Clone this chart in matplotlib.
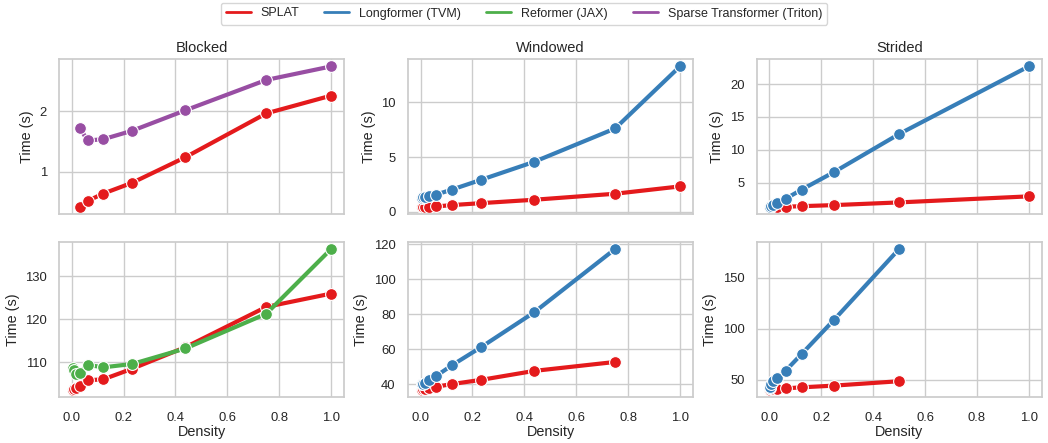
import numpy
import seaborn as sns
from matplotlib import pyplot
from matplotlib.lines import Line2D
from matplotlib.ticker import StrMethodFormatter

sns.set_theme(style='whitegrid')
pyplot.rcParams['font.family'] = ['Liberation Sans', 'DejaVu Sans']

# colours (Set1)
C_SPLAT = '#e41a1c'
C_LONG = '#377eb8'
C_REF = '#4daf4a'
C_SPARSE = '#984ea3'

series_names = ['SPLAT', 'Longformer (TVM)', 'Reformer (JAX)', 'Sparse Transformer (Triton)']
col_titles = ['Blocked', 'Windowed', 'Strided']

# Blocked, top row
blk_top_d = [0.031, 0.061, 0.121, 0.234, 0.438, 0.75, 1.0]
blk_top_splat = [0.667, 0.715, 0.778, 0.882, 1.18, 1.95, 2.39]
blk_top_sparse = [1.65, 1.43, 1.45, 1.60, 2.02, 2.86, 3.34]

# Blocked, bottom row
blk_bot_d = [0.004, 0.008, 0.016, 0.031, 0.061, 0.121, 0.234, 0.438, 0.75, 1.0]
blk_bot_splat = [103.6, 103.8, 104.1, 104.5, 105.8, 106.0, 108.5, 113.5, 122.9, 126.0]
blk_bot_reformer = [108.6, 108.3, 107.3, 107.6, 109.4, 108.8, 109.6, 113.2, 121.3, 136.4]

# Windowed, top row
win_top_d = [0.004, 0.008, 0.016, 0.031, 0.061, 0.121, 0.234, 0.438, 0.75, 1.0]
win_top_splat = [0.43, 0.44, 0.45, 0.47, 0.49, 0.61, 0.79, 1.10, 1.65, 2.32]
win_top_long = [1.3, 1.33, 1.38, 1.45, 1.58, 2.03, 2.93, 4.57, 7.62, 13.3]

# Windowed, bottom row
win_bot_d = [0.004, 0.008, 0.016, 0.031, 0.061, 0.121, 0.234, 0.438, 0.75]
win_bot_splat = [37.0, 37.2, 37.4, 37.8, 38.7, 40.2, 42.6, 47.7, 52.8]
win_bot_long = [40.2, 40.5, 41.0, 42.3, 44.9, 50.9, 61.3, 81.1, 117.2]

# Strided, top row
str_top_d = [0.0039, 0.0078, 0.0156, 0.0312, 0.0625, 0.125, 0.25, 0.5, 1.0]
str_top_splat = [1.28, 1.29, 1.30, 1.31, 1.33, 1.42, 1.58, 1.99, 2.91]
str_top_long = [1.3, 1.4, 1.55, 1.85, 2.55, 3.95, 6.63, 12.4, 22.7]

# Strided, bottom row
str_bot_d = [0.002, 0.0039, 0.0078, 0.0156, 0.0312, 0.0625, 0.125, 0.25, 0.5]
str_bot_splat = [40.1, 40.2, 40.4, 40.7, 41.0, 41.4, 42.4, 44.1, 48.4]
str_bot_long = [41.5, 43.0, 45.5, 48.5, 52.0, 58.7, 75.3, 108.9, 178.3]

panels = [
    [(blk_top_d, blk_top_splat, C_SPLAT), (blk_top_d, blk_top_sparse, C_SPARSE)],
    [(win_top_d, win_top_splat, C_SPLAT), (win_top_d, win_top_long, C_LONG)],
    [(str_top_d, str_top_splat, C_SPLAT), (str_top_d, str_top_long, C_LONG)],
    [(blk_bot_d, blk_bot_splat, C_SPLAT), (blk_bot_d, blk_bot_reformer, C_REF)],
    [(win_bot_d, win_bot_splat, C_SPLAT), (win_bot_d, win_bot_long, C_LONG)],
    [(str_bot_d, str_bot_splat, C_SPLAT), (str_bot_d, str_bot_long, C_LONG)],
]

fig, axes = pyplot.subplots(2, 3, figsize=(10.48, 4.43), dpi=100, sharex=True)
fig.subplots_adjust(left=0.0566, right=0.994, top=0.866, bottom=0.1045,
                    wspace=0.225, hspace=0.18)

for k, ax in enumerate(axes.flat):
    for d, t, c in panels[k]:
        ax.plot(d, t, color=c, lw=3, marker='o', ms=8.5,
                markeredgecolor='white', markeredgewidth=0.8)
    ax.set_ylabel('Time (s)', fontsize=10.4)
    ax.tick_params(labelsize=9.4, length=0)
    ax.tick_params(axis='x', pad=11)
    ax.tick_params(axis='y', pad=9)
    for s in ax.spines.values():
        s.set_color('#cccccc')

for j, ax in enumerate(axes[0]):
    ax.set_title(col_titles[j], fontsize=10.5, pad=5)

for ax in axes[1]:
    ax.set_xlabel('Density', fontsize=10.4, labelpad=1)
    ax.set_xticks(numpy.arange(0, 1.01, 0.2))

# Blocked top uses a base-2 log axis
axes[0, 0].set_yscale('log', base=2)
axes[0, 0].yaxis.set_major_formatter(StrMethodFormatter('{x:g}'))
axes[0, 0].yaxis.set_minor_locator(pyplot.NullLocator())

handles = [Line2D([], [], color=c, lw=2) for c in [C_SPLAT, C_LONG, C_REF, C_SPARSE]]
fig.legend(handles, series_names, loc='upper center', bbox_to_anchor=(0.5, 1.0),
           ncol=4, fontsize=9.0, frameon=True, edgecolor='#cccccc',
           borderaxespad=0.2)

fig.savefig('out.png', dpi=100)
